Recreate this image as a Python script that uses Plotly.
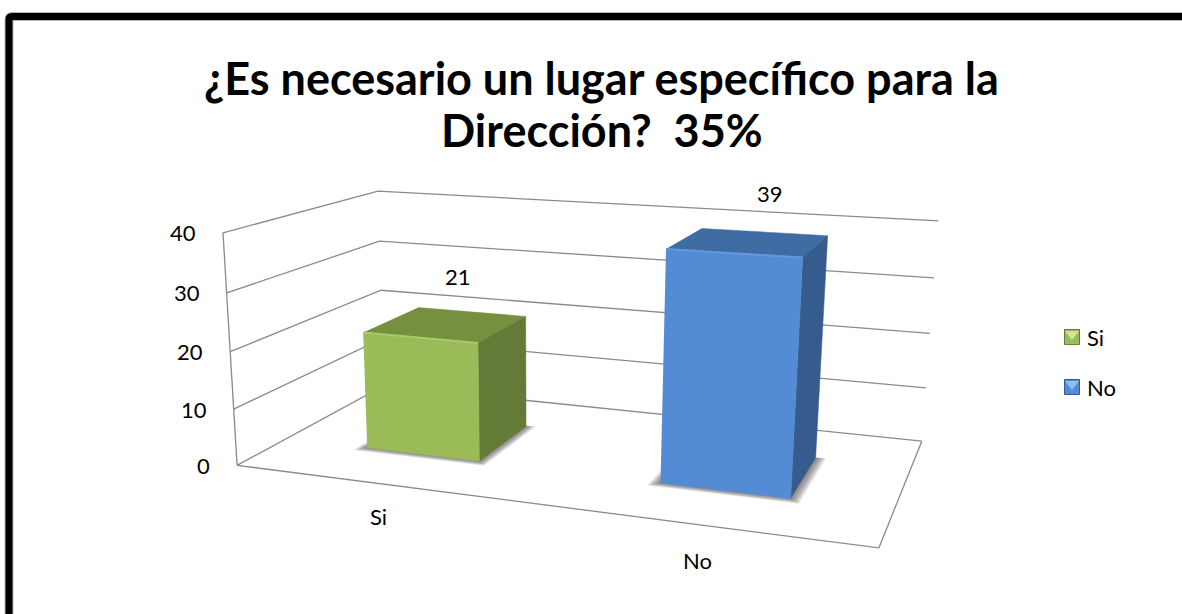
import numpy as np
import plotly.graph_objects as go

# ---- data ----
categories = ["Si", "No"]
values = [21, 39]
tick_values = [0, 10, 20, 30, 40]
title_lines = ["¿Es necesario un lugar específico para la", "Dirección?  35%"]

# ---- styles ----
AXIS_MAX = 40
GRID = "#8a8a8a"
TEXT = "#000000"
FONT = "Lato"
front_colors = ["#9BBB59", "#538CD5"]
top_colors = ["#76903F", "#3F6CA3"]
side_colors = ["#647A37", "#355C8C"]
edge_colors = ["#A9C96A", "#6499DE"]
swatch_light = ["#D3E59A", "#8DC0F0"]
swatch_y = [337, 387]
title_y = [78, 130]
value_offsets = [(11, -48), (21, -49)]
cat_offsets = [(-1, 33), (-1, 36)]

# Calibration of the oblique view: unit box corner -> page pixel
box = [(0, 0, 0), (0, 1, 0), (1, 0, 0), (1, 0, 1), (1, 1, 1), (0, 1, 1), (0, 0, 1)]
page = [(238, 465), (222, 233), (879, 548), (922, 441), (938, 221), (379, 191), (383, 386)]
A, b = [], []
for (u, v, w), (px, py) in zip(box, page):
    A.append([u, v, w, 1, 0, 0, 0, 0, -px * u, -px * v, -px * w]); b.append(px)
    A.append([0, 0, 0, 0, u, v, w, 1, -py * u, -py * v, -py * w]); b.append(py)
coef = np.linalg.lstsq(np.array(A, float), np.array(b, float), rcond=None)[0]
M = np.append(coef, 1).reshape(3, 4)


def proj(u, v, w):
    r = M @ np.array([u, v, w, 1.0])
    return r[0] / r[2], r[1] / r[2]


def path(points):
    xy = [proj(*p) for p in points]
    return [q[0] for q in xy], [q[1] for q in xy]


fig = go.Figure()


def line(points, color=GRID, width=1.3):
    x, y = path(points)
    fig.add_trace(go.Scatter(x=x, y=y, mode="lines", line=dict(color=color, width=width),
                             hoverinfo="skip", showlegend=False))


def poly(points, color, edge=0.5):
    x, y = path(points)
    fig.add_trace(go.Scatter(x=x, y=y, mode="lines", fill="toself", fillcolor=color,
                             line=dict(color=color, width=edge), hoverinfo="skip", showlegend=False))


# walls and floor
for t in tick_values:
    f = t / AXIS_MAX
    line([(0, f, 0), (0, f, 1), (1, f, 1)])
line([(0, 0, 0), (0, 1, 0)])
line([(0, 0, 0), (1, 0, 0), (1, 0, 1)])

# bars
n = len(values)
gap = 1.5
bar_w = 1 / n / (1 + gap)
w0, w1 = gap / (1 + gap) / 2, 1 - gap / (1 + gap) / 2
for i, val in enumerate(values):
    c = (i + 0.5) / n
    u0, u1 = c - bar_w / 2, c + bar_w / 2
    h = val / AXIS_MAX
    for k in range(8, 0, -1):
        du, dw = 0.002 * k, 0.0045 * k
        poly([(u0 - du, 0, w0 - dw), (u1 + du, 0, w0 - dw), (u1 + du, 0, w1 + dw * 0.3), (u0 - du, 0, w1)],
             "rgba(60,60,60,0.10)", edge=0)
    poly([(u0, h, w0), (u1, h, w0), (u1, h, w1), (u0, h, w1)], top_colors[i])
    poly([(u1, 0, w0), (u1, h, w0), (u1, h, w1), (u1, 0, w1)], side_colors[i])
    poly([(u0, 0, w0), (u1, 0, w0), (u1, h, w0), (u0, h, w0)], front_colors[i])
    line([(u0, h, w0), (u1, h, w0)], edge_colors[i], 2)
    # labels
    tx, ty = proj(c, h, (w0 + w1) / 2)
    fig.add_annotation(x=tx + value_offsets[i][0], y=ty + value_offsets[i][1], text=str(val), showarrow=False,
                       font=dict(family=FONT, size=22, color=TEXT))
    bx, by = proj(c, 0, 0)
    fig.add_annotation(x=bx + cat_offsets[i][0], y=by + cat_offsets[i][1], text=categories[i], showarrow=False,
                       font=dict(family=FONT, size=22, color=TEXT))
    # legend entry
    fig.add_trace(go.Scatter(x=[1072], y=[swatch_y[i]], mode="markers",
                             marker=dict(symbol="square", size=15, color=front_colors[i],
                                         line=dict(color=side_colors[i], width=1)),
                             hoverinfo="skip", showlegend=False))
    fig.add_trace(go.Scatter(x=[1072], y=[swatch_y[i] - 3], mode="markers",
                             marker=dict(symbol="triangle-down", size=12, color=swatch_light[i], line=dict(width=0)),
                             hoverinfo="skip", showlegend=False))
    fig.add_annotation(x=1085, y=swatch_y[i], text=categories[i], showarrow=False, xanchor="left",
                       font=dict(family=FONT, size=22, color=TEXT))

# value axis labels
for t in tick_values:
    px, py = proj(0, t / AXIS_MAX, 0)
    fig.add_annotation(x=px - 25, y=py, text=str(t), showarrow=False, xanchor="right",
                       font=dict(family=FONT, size=22, color=TEXT))

# title, two lines with the reference's tighter line spacing
for txt, ty in zip(title_lines, title_y):
    fig.add_annotation(x=601.5, y=ty, text=f"<b>{txt}</b>", showarrow=False,
                       font=dict(family=FONT, size=45, color=TEXT))

frame = "M 9 660 L 9 19.5 Q 9 16.5 12 16.5 L 1215 16.5"
fig.update_layout(
    width=1182, height=614, autosize=False,
    margin=dict(l=0, r=0, t=0, b=0),
    paper_bgcolor="white", plot_bgcolor="white",
    showlegend=False,
    xaxis=dict(range=[0, 1182], visible=False, fixedrange=True),
    yaxis=dict(range=[614, 0], visible=False, fixedrange=True),
    shapes=[dict(type="path", xref="x", yref="y", path=frame, line=dict(color="#b5b5b5", width=9), layer="above"),
            dict(type="path", xref="x", yref="y", path=frame, line=dict(color="black", width=7), layer="above")],
)
fig.write_html("out.html", config={"displayModeBar": False}, post_script="document.body.style.margin='0';")
